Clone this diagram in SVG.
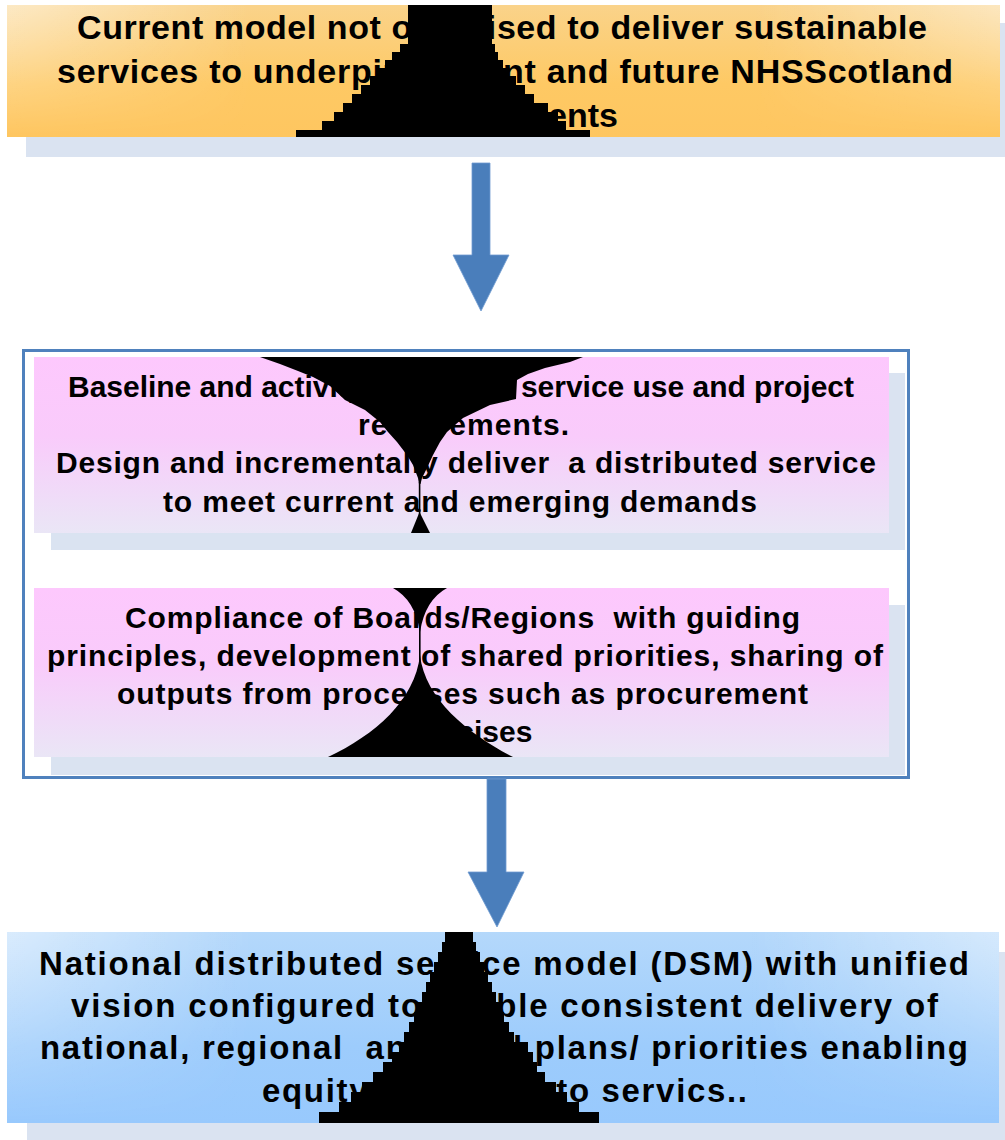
<svg xmlns="http://www.w3.org/2000/svg" width="1005" height="1140" viewBox="0 0 1005 1140">
  <defs>
    <linearGradient id="gOrange" x1="0" y1="0" x2="0" y2="1">
      <stop offset="0" stop-color="#fad38a"/>
      <stop offset="0.6" stop-color="#fec964"/>
      <stop offset="1" stop-color="#fec660"/>
    </linearGradient>
    <linearGradient id="gPink" x1="0" y1="0" x2="0" y2="1">
      <stop offset="0" stop-color="#fdc8fd"/>
      <stop offset="0.45" stop-color="#f9cbfb"/>
      <stop offset="1" stop-color="#eae6f6"/>
    </linearGradient>
    <linearGradient id="gBlue" x1="0" y1="0" x2="0" y2="1">
      <stop offset="0" stop-color="#b4d8fb"/>
      <stop offset="0.6" stop-color="#9dccfc"/>
      <stop offset="1" stop-color="#98c9fd"/>
    </linearGradient>
    <linearGradient id="gEdge" x1="0" y1="0" x2="1" y2="0">
      <stop offset="0" stop-color="#ffffff" stop-opacity="0.5"/>
      <stop offset="0.25" stop-color="#ffffff" stop-opacity="0"/>
      <stop offset="0.75" stop-color="#ffffff" stop-opacity="0"/>
      <stop offset="1" stop-color="#ffffff" stop-opacity="0.45"/>
    </linearGradient>
    <linearGradient id="gFade" x1="0" y1="0" x2="0" y2="1">
      <stop offset="0" stop-color="#ffffff"/>
      <stop offset="1" stop-color="#000000"/>
    </linearGradient>
    <mask id="mFade" maskContentUnits="objectBoundingBox">
      <rect x="0" y="0" width="1" height="1" fill="url(#gFade)"/>
    </mask>
  </defs>
  <style>
    .shadow { fill: #dae3f1; }
    .t { font-family: "Liberation Sans", Arial, sans-serif; font-weight: bold; fill: #000000; }
    .t34 { font-size: 34px; }
    .t30 { font-size: 30px; }
    .t33 { font-size: 33px; }
    .arrow { fill: #4a7ebb; stroke: #6f9ad0; stroke-width: 0.8; }
    .art { fill: #000000; }
  </style>

  <g id="node-current-model">
    <rect class="shadow" x="26" y="23" width="979" height="134"/>
    <rect x="7" y="5" width="993" height="132" fill="url(#gOrange)"/>
    <rect x="7" y="5" width="993" height="132" fill="url(#gEdge)" mask="url(#mFade)"/>
    <text class="t t34" x="502" y="39" text-anchor="middle" textLength="850" lengthAdjust="spacing">Current model not optimised to deliver sustainable</text>
    <text class="t t34" x="505" y="83" text-anchor="middle" textLength="896" lengthAdjust="spacing">services to underpin current and future NHSScotland</text>
    <text class="t t34" x="618" y="127" text-anchor="end">requirements</text>
  </g>

  <g id="node-programme">
    <rect x="23.5" y="350.5" width="885" height="427" fill="#ffffff" stroke="#4f81bd" stroke-width="3"/>
    <g id="node-baseline">
      <rect class="shadow" x="51" y="373" width="854" height="177"/>
      <rect x="34" y="357" width="855" height="176" fill="url(#gPink)"/>
      <text class="t t30" x="461" y="397" text-anchor="middle" textLength="786" lengthAdjust="spacing">Baseline and activity of current service use and project</text>
      <text class="t t30" x="358" y="435" textLength="211" lengthAdjust="spacing">requirements.</text>
      <text class="t t30" x="466" y="473" text-anchor="middle" textLength="820" lengthAdjust="spacing" xml:space="preserve">Design and incrementally deliver  a distributed service</text>
      <text class="t t30" x="460" y="512" text-anchor="middle" textLength="594" lengthAdjust="spacing">to meet current and emerging demands</text>
    </g>
    <g id="node-compliance">
      <rect class="shadow" x="51" y="605" width="854" height="170"/>
      <rect x="34" y="588" width="855" height="169" fill="url(#gPink)"/>
      <text class="t t30" x="462.5" y="628" text-anchor="middle" textLength="675" lengthAdjust="spacing" xml:space="preserve">Compliance of Boards/Regions  with guiding</text>
      <text class="t t30" x="465" y="666" text-anchor="middle" textLength="836" lengthAdjust="spacing">principles, development of shared priorities, sharing of</text>
      <text class="t t30" x="462.5" y="704" text-anchor="middle" textLength="691" lengthAdjust="spacing">outputs from processes such as procurement</text>
      <text class="t t30" x="464" y="742" text-anchor="middle">exercises</text>
    </g>
  </g>

  <g id="node-national-dsm">
    <rect class="shadow" x="27" y="952" width="978" height="188"/>
    <rect x="7" y="932" width="992" height="191" fill="url(#gBlue)"/>
    <rect x="7" y="932" width="992" height="191" fill="url(#gEdge)" mask="url(#mFade)"/>
    <text class="t t33" x="504" y="975" text-anchor="middle" textLength="930" lengthAdjust="spacing">National distributed service model (DSM) with unified</text>
    <text class="t t33" x="504.5" y="1017" text-anchor="middle" textLength="867" lengthAdjust="spacing">vision configured to enable consistent delivery of</text>
    <text class="t t33" x="504" y="1059" text-anchor="middle" textLength="928" lengthAdjust="spacing" xml:space="preserve">national, regional  and local plans/ priorities enabling</text>
    <text class="t t33" x="504.5" y="1102" text-anchor="middle" textLength="485" lengthAdjust="spacing">equity of access to servics..</text>
  </g>

  <g id="connectors">
    <path class="arrow" d="M472,163 H490 V255 H509 L481,311 L453,255 H472 Z"/>
    <path class="arrow" d="M487,779 H506 V872 H524 L497,927 L468,872 H487 Z"/>
  </g>

  <g id="render-artifacts">
    <path class="art" d="M408,5 H492 V44 H495 V52 H498 V60 H503 V68 H509 V76 H516 V85 H525 V94 H534 V103 H548 V112 H558 V121 H566 V130 H590 V137 H296 V130 H322 V121 H334 V112 H343 V103 H352 V94 H361 V85 H370 V76 H378 V68 H385 V60 H392 V52 H400 V44 H408 Z"/>
    <path class="art" d="M260,357 H583 L570,362 L545,368 L528,374 L517,380 L516,399 L490,405 L463,418 L447,432 L440,442 L433,455 L427,468 L422,478 L420.5,484 L419,484 L418,478 L413,465 L407,455 L397,442 L388,432 L380,422 L365,410 L345,400 L330,386 L313,377 L298,371 L280,364 Z"/>
    <rect class="art" x="418.8" y="482" width="1.6" height="42"/>
    <path class="art" d="M419.5,512 L430,533 L411,533 Z"/>
    <path class="art" d="M393,588 H447 Q425,600 420,632 Q415,600 393,588 Z"/>
    <rect class="art" x="419" y="625" width="1.6" height="40"/>
    <path class="art" d="M420,655 C425,700 470,735 513,757 H328 C375,735 415,700 420,655 Z"/>
    <path class="art" d="M445,932 H473 V942 H476 V952 H480 V962 H484 V972 H488 V982 H492 V992 H496 V1002 H500 V1012 H504 V1022 H509 V1032 H514 V1042 H528 V1052 H533 V1062 H537 V1072 H545 V1082 H556 V1092 H567 V1102 H579 V1112 H599 V1123 H319 V1112 H339 V1102 H351 V1092 H362 V1082 H373 V1072 H383 V1062 H392 V1052 H399 V1042 H404 V1032 H409 V1022 H414 V1012 H418 V1002 H422 V992 H426 V982 H430 V972 H434 V962 H438 V952 H442 V942 H445 Z"/>
  </g>
</svg>
